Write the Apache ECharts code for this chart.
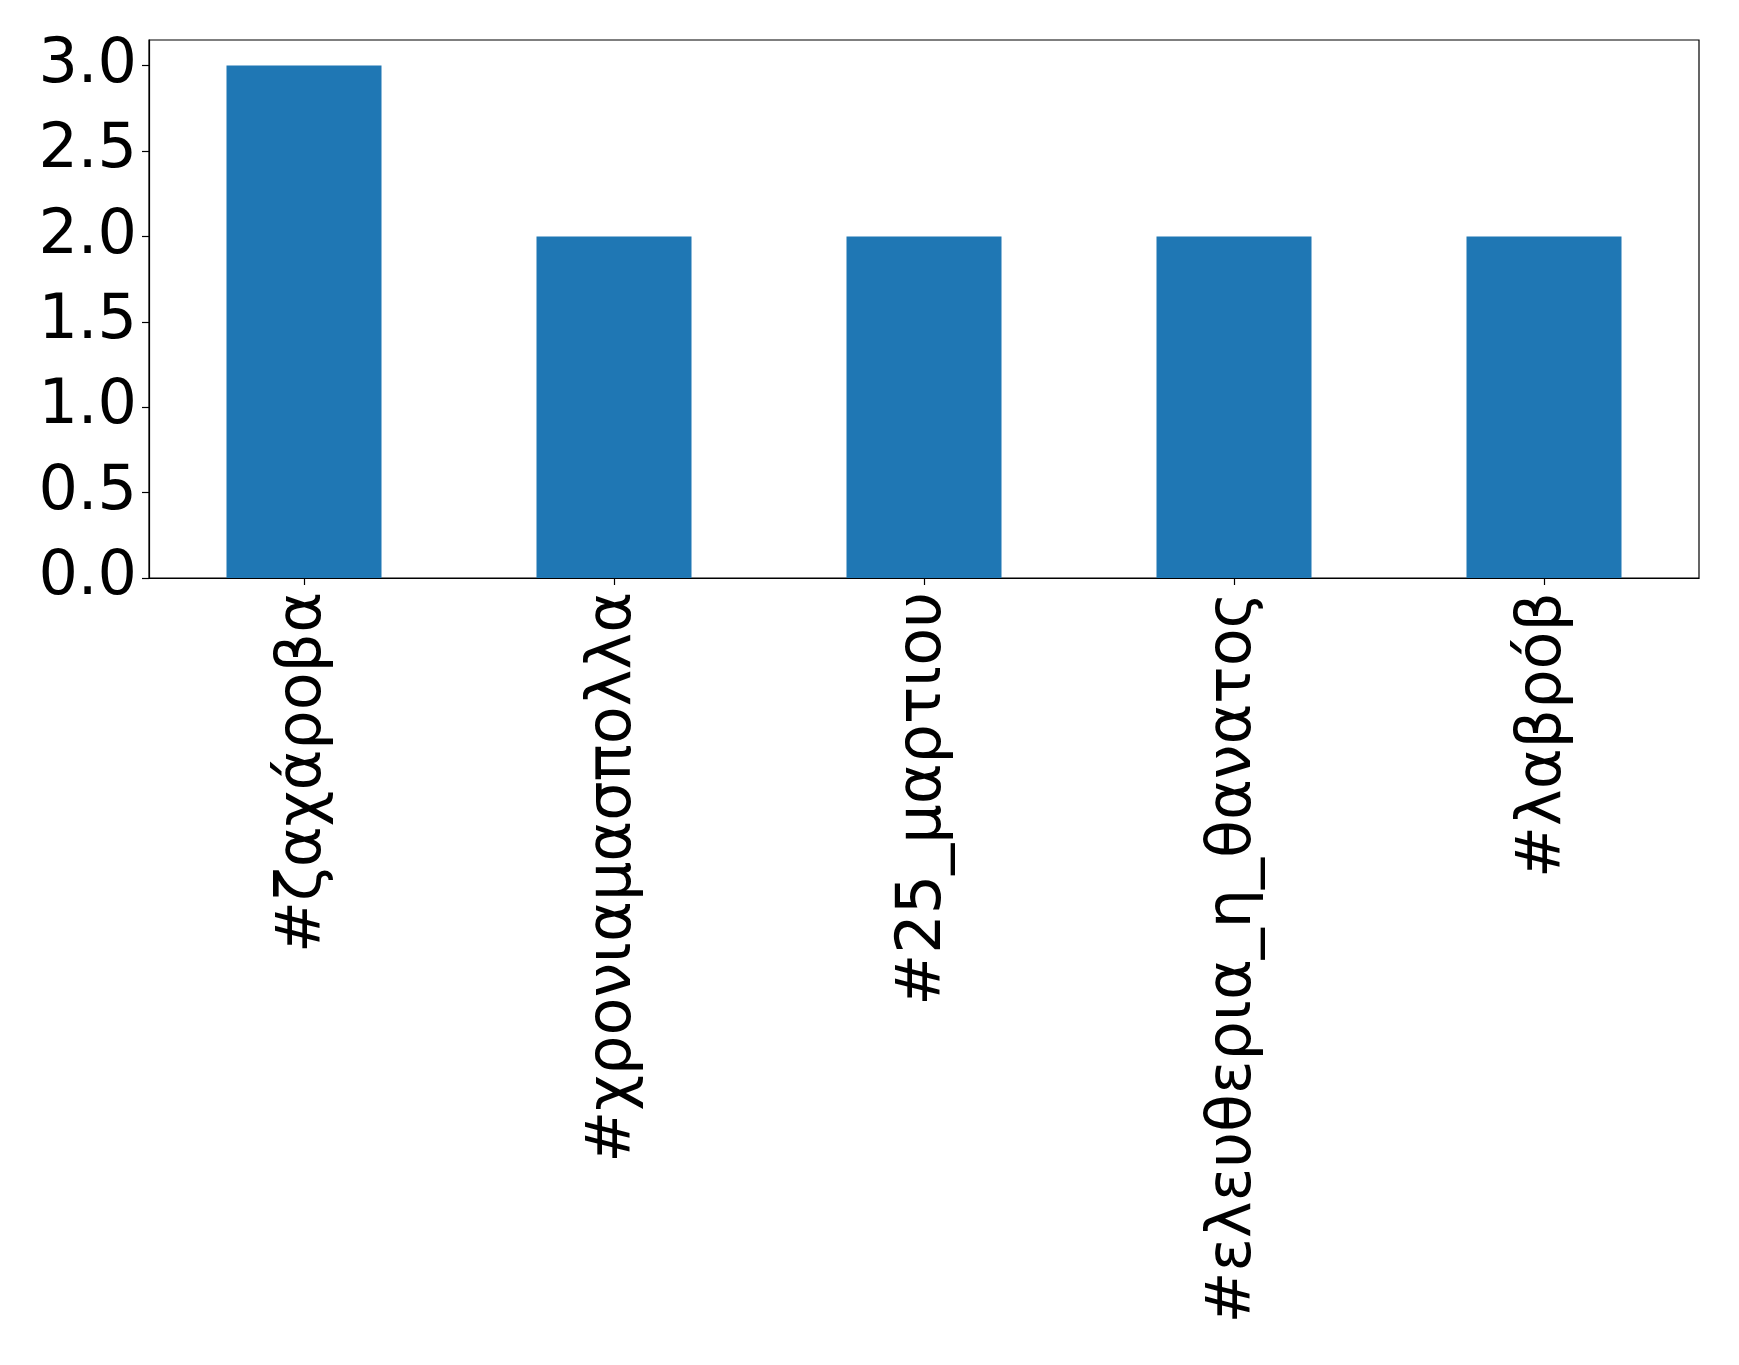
<!DOCTYPE html>
<html>
<head>
<meta charset="utf-8">
<script src="https://cdn.jsdelivr.net/npm/echarts@6/dist/echarts.min.js"></script>
<style>
html,body{margin:0;padding:0;background:#fff;}
#c{width:1739px;height:1365px;}
</style>
</head>
<body>
<div id="c"></div>
<script>
const categories = ["#ζαχάροβα", "#χρονιαμασπολλα", "#25_μαρτιου", "#ελευθερια_η_θανατος", "#λαβρόβ"];
const counts = [3, 2, 2, 2, 2];
const yTicks = [0, 0.5, 1.0, 1.5, 2.0, 2.5, 3.0];

const chart = echarts.init(document.getElementById('c'), null, {renderer: 'canvas'});
const font = 'DejaVu Sans';
chart.setOption({
  backgroundColor: '#fff',
  animation: false,
  grid: {
    left: 149, right: 40, top: 40, bottom: 787,
    show: true, borderColor: '#000', borderWidth: 1.2, backgroundColor: 'transparent'
  },
  xAxis: {
    type: 'category',
    data: categories,
    axisLine: {show: true, lineStyle: {color: '#000', width: 1.2}},
    axisTick: {show: true, alignWithLabel: true, length: 7, lineStyle: {color: '#000', width: 1.2}},
    axisLabel: {
      rotate: 90, margin: 14, color: '#000',
      fontFamily: font, fontSize: 62, interval: 0
    },
    splitLine: {show: false}
  },
  yAxis: {
    type: 'value',
    min: 0, max: 3.15, interval: 0.5,
    axisLine: {show: true, lineStyle: {color: '#000', width: 1.2}},
    axisTick: {show: true, length: 7, lineStyle: {color: '#000', width: 1.2}, customValues: yTicks},
    axisLabel: {
      color: '#000', fontFamily: font, fontSize: 62, margin: 12,
      customValues: yTicks,
      formatter: v => v.toFixed(1)
    },
    splitLine: {show: false}
  },
  series: [{
    type: 'bar',
    data: counts,
    barWidth: '50%',
    itemStyle: {color: '#1f77b4'}
  }]
});
</script>
</body>
</html>
